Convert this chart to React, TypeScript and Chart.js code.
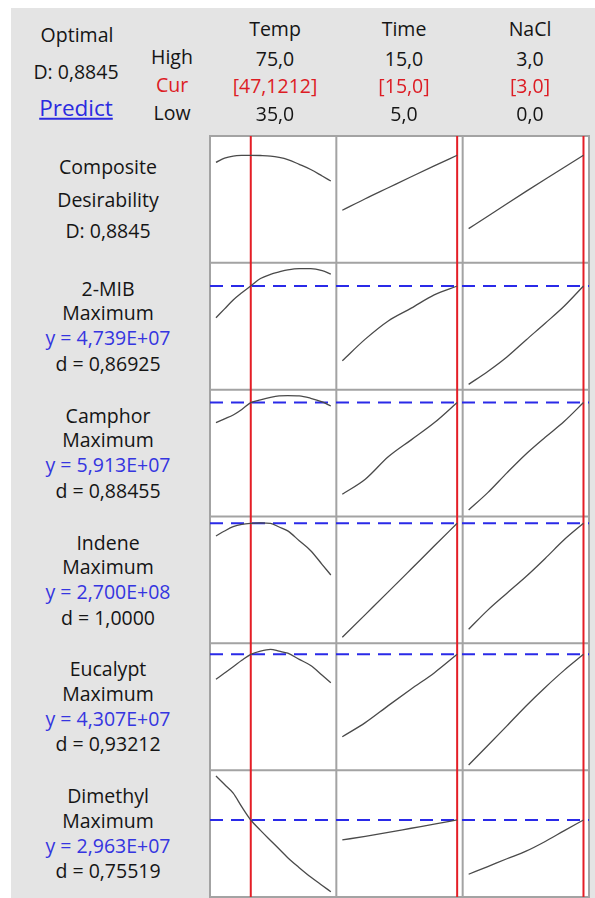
import React, { useEffect, useRef } from 'react';
import { Chart, registerables } from 'chart.js';

Chart.register(...registerables);

// ---------------- data ----------------
const factorNames = ['Temp', 'Time', 'NaCl'];
const highText = ['75,0', '15,0', '3,0'];
const curText = ['[47,1212]', '[15,0]', '[3,0]'];
const lowText = ['35,0', '5,0', '0,0'];
const factorLow = [35, 5, 0];
const factorHigh = [75, 15, 3];
const factorCur = [47.1212, 15, 3];

const tempGrid = [35, 38, 41, 44, 47.1212, 50.5, 54, 57, 60, 64, 68, 72, 75];
const timeGrid = [5, 7, 9, 11, 13, 15];
const naclGrid = [0, 0.5, 1, 1.5, 2, 2.5, 3];

const responseNames = ['Composite', '2-MIB', 'Camphor', 'Indene', 'Eucalypt', 'Dimethyl'];
const goalText = ['Desirability', 'Maximum', 'Maximum', 'Maximum', 'Maximum', 'Maximum'];
const predictedText = ['D: 0,8845', 'y = 4,739E+07', 'y = 5,913E+07', 'y = 2,700E+08', 'y = 4,307E+07', 'y = 2,963E+07'];
const desirText = ['', 'd = 0,86925', 'd = 0,88455', 'd = 1,0000', 'd = 0,93212', 'd = 0,75519'];
// composite row in D units; response rows in units of 1E+07
const predictedValue = [0.8845, 4.739, 5.913, 27.0, 4.307, 2.963];
const axisMin = [0.24, 1.47, 2.32, 8.07, 0.654, 0.534];
const axisMax = [1.0, 5.47, 6.32, 28.07, 4.654, 4.534];

const compTempY = [0.842, 0.867, 0.879, 0.8835, 0.8845, 0.8832, 0.880, 0.872, 0.859, 0.830, 0.799, 0.760, 0.730];
const compTimeY = [0.555, 0.624, 0.690, 0.756, 0.821, 0.8845];
const compNaclY = [0.445, 0.519, 0.594, 0.668, 0.741, 0.813, 0.8845];

const mibTempY = [3.739, 4.019, 4.297, 4.524, 4.739, 4.975, 5.107, 5.183, 5.249, 5.290, 5.287, 5.221, 5.117];
const mibTimeY = [2.382, 3.064, 3.638, 4.041, 4.461, 4.739];
const mibNaclY = [1.638, 2.045, 2.502, 3.038, 3.565, 4.108, 4.739];

const camTempY = [5.279, 5.399, 5.522, 5.696, 5.913, 5.998, 6.074, 6.121, 6.134, 6.125, 6.049, 5.932, 5.806];
const camTimeY = [3.021, 3.494, 4.201, 4.737, 5.273, 5.913];
const camNaclY = [2.526, 3.072, 3.696, 4.292, 4.819, 5.323, 5.913];

const indTempY = [25.0, 25.78, 26.46, 26.84, 27.0, 27.05, 26.97, 26.41, 25.8, 24.25, 22.68, 20.49, 18.85];
const indTimeY = [9.02, 12.6, 16.18, 19.79, 23.41, 27.0];
const indNaclY = [10.28, 13.31, 15.98, 18.61, 21.46, 24.43, 27.0];

const eucTempY = [3.519, 3.717, 3.916, 4.118, 4.307, 4.411, 4.465, 4.405, 4.342, 4.149, 3.954, 3.645, 3.411];
const eucTimeY = [1.708, 2.153, 2.689, 3.213, 3.721, 4.307];
const eucNaclY = [0.816, 1.431, 2.052, 2.68, 3.263, 3.809, 4.307];

const dimTempY = [4.351, 4.08, 3.809, 3.377, 2.963, 2.635, 2.317, 2.046, 1.774, 1.459, 1.163, 0.898, 0.702];
const dimTimeY = [2.333, 2.449, 2.572, 2.702, 2.831, 2.963];
const dimNaclY = [1.251, 1.494, 1.74, 1.979, 2.285, 2.629, 2.963];

const curveRows = [
  [compTempY, compTimeY, compNaclY],
  [mibTempY, mibTimeY, mibNaclY],
  [camTempY, camTimeY, camNaclY],
  [indTempY, indTimeY, indNaclY],
  [eucTempY, eucTimeY, eucNaclY],
  [dimTempY, dimTimeY, dimNaclY],
];
const grids = [tempGrid, timeGrid, naclGrid];

// ---------------- layout / style ----------------
const FONT = '"Open Sans", "Noto Sans", sans-serif';
const FONT_SIZE = 19.5;
const CANVAS_LEFT = 200;
const CANVAS_TOP = 126;
const CANVAS_W = 395;
const CANVAS_H = 772;
const AREA_TOP = 136;
const AREA_BOTTOM = 897;
const ROW_H = (AREA_BOTTOM - AREA_TOP) / 6;
const headerX = [275, 404, 530];
const LABEL_X = 108;
const RED = '#e41e26';
const BLUE = '#2a2ae8';
const CURVE = '#4a4a4a';
const GRID = '#a3a3a3';

const cellPlugin = {
  id: 'cellGrid',
  beforeDraw(chart: any) {
    const { ctx, chartArea: a } = chart;
    ctx.save();
    ctx.fillStyle = '#ffffff';
    ctx.fillRect(a.left, a.top, a.right - a.left, a.bottom - a.top);
    ctx.restore();
  },
  beforeDatasetsDraw(chart: any) {
    const { ctx, chartArea: a } = chart;
    ctx.save();
    ctx.strokeStyle = GRID;
    ctx.lineWidth = 2;
    ctx.beginPath();
    for (let c = 0; c < 3; c++) {
      const s = chart.scales['x' + c];
      ctx.moveTo(s.left, a.top - 1);
      ctx.lineTo(s.left, a.bottom + 1);
      if (c === 2) {
        ctx.moveTo(s.right, a.top - 1);
        ctx.lineTo(s.right, a.bottom + 1);
      }
    }
    for (let r = 0; r < 6; r++) {
      const s = chart.scales['y' + r];
      ctx.moveTo(a.left - 1, s.top);
      ctx.lineTo(a.right + 1, s.top);
      if (r === 5) {
        ctx.moveTo(a.left - 1, s.bottom);
        ctx.lineTo(a.right + 1, s.bottom);
      }
    }
    ctx.stroke();
    ctx.restore();
  },
};

function Label(props: { x: number; y: number; text: string; color?: string; size?: number; underline?: boolean }) {
  const { x, y, text, color = '#151515', size = FONT_SIZE, underline = false } = props;
  return (
    <div
      style={{
        position: 'absolute',
        left: x,
        top: y,
        transform: 'translate(-50%, -50%)',
        whiteSpace: 'nowrap',
        fontFamily: FONT,
        fontSize: size,
        lineHeight: 1,
        color,
        textDecoration: underline ? 'underline' : 'none',
      }}
    >
      {text}
    </div>
  );
}

export default function App() {
  const ref = useRef<HTMLCanvasElement | null>(null);

  useEffect(() => {
    if (!ref.current) return;
    const scales: any = {};
    for (let c = 0; c < 3; c++) {
      const range = factorHigh[c] - factorLow[c];
      scales['x' + c] = {
        type: 'linear',
        position: 'bottom',
        stack: 'cols',
        stackWeight: 1,
        min: factorLow[c] - range * 0.052,
        max: factorHigh[c] + range * 0.048,
        display: false,
      };
    }
    scales.xAll = { type: 'linear', position: 'top', min: 0, max: 1, display: false };
    for (let r = 0; r < 6; r++) {
      scales['y' + r] = {
        type: 'linear',
        position: 'right',
        stack: 'rows',
        stackWeight: 1,
        min: axisMin[r],
        max: axisMax[r],
        display: false,
      };
    }
    scales.yAll = { type: 'linear', position: 'left', min: 0, max: 1, display: false };

    const datasets: any[] = [];
    for (let r = 0; r < 6; r++) {
      for (let c = 0; c < 3; c++) {
        datasets.push({
          data: grids[c].map((x, i) => ({ x, y: curveRows[r][c][i] })),
          xAxisID: 'x' + c,
          yAxisID: 'y' + r,
          borderColor: CURVE,
          borderWidth: 1.3,
          pointRadius: 0,
          fill: false,
          cubicInterpolationMode: 'monotone',
        });
      }
      if (r > 0) {
        datasets.push({
          data: [
            { x: 0, y: predictedValue[r] },
            { x: 1, y: predictedValue[r] },
          ],
          xAxisID: 'xAll',
          yAxisID: 'y' + r,
          borderColor: BLUE,
          borderWidth: 2,
          borderDash: [13, 8],
          pointRadius: 0,
          fill: false,
        });
      }
    }
    for (let c = 0; c < 3; c++) {
      datasets.push({
        data: [
          { x: factorCur[c], y: 0 },
          { x: factorCur[c], y: 1 },
        ],
        xAxisID: 'x' + c,
        yAxisID: 'yAll',
        borderColor: RED,
        borderWidth: 2,
        pointRadius: 0,
        fill: false,
      });
    }

    const chart = new Chart(ref.current, {
      type: 'line',
      data: { datasets },
      options: {
        animation: false,
        responsive: false,
        devicePixelRatio: 1,
        layout: {
          padding: {
            left: 210 - CANVAS_LEFT,
            right: CANVAS_LEFT + CANVAS_W - 589,
            top: AREA_TOP - CANVAS_TOP,
            bottom: CANVAS_TOP + CANVAS_H - AREA_BOTTOM,
          },
        },
        plugins: { legend: { display: false }, tooltip: { enabled: false } },
        scales,
      } as any,
      plugins: [cellPlugin],
    });
    return () => chart.destroy();
  }, []);

  const labels: any[] = [];
  // top-left block
  labels.push(<Label key="opt" x={77} y={35} text="Optimal" />);
  labels.push(<Label key="optd" x={76} y={72} text="D: 0,8845" />);
  labels.push(<Label key="pred" x={76} y={108} text="Predict" size={22.5} color="#2b2be0" underline />);
  labels.push(<Label key="hi" x={172} y={57} text="High" />);
  labels.push(<Label key="cur" x={172} y={85} text="Cur" color="#dd1c24" />);
  labels.push(<Label key="lo" x={172} y={113} text="Low" />);
  for (let c = 0; c < 3; c++) {
    labels.push(<Label key={'fn' + c} x={headerX[c]} y={29} text={factorNames[c]} />);
    labels.push(<Label key={'fh' + c} x={headerX[c]} y={59} text={highText[c]} />);
    labels.push(<Label key={'fc' + c} x={headerX[c]} y={86} text={curText[c]} color="#dd1c24" />);
    labels.push(<Label key={'fl' + c} x={headerX[c]} y={114} text={lowText[c]} />);
  }
  // row labels
  labels.push(<Label key="r0a" x={LABEL_X} y={167} text={responseNames[0]} />);
  labels.push(<Label key="r0b" x={LABEL_X} y={200} text={goalText[0]} />);
  labels.push(<Label key="r0c" x={LABEL_X} y={231} text={predictedText[0]} />);
  for (let r = 1; r < 6; r++) {
    const top = AREA_TOP + r * ROW_H;
    labels.push(<Label key={'rn' + r} x={LABEL_X} y={top + 26} text={responseNames[r]} />);
    labels.push(<Label key={'rg' + r} x={LABEL_X} y={top + 50.5} text={goalText[r]} />);
    labels.push(<Label key={'rp' + r} x={LABEL_X} y={top + 75.5} text={predictedText[r]} color="#3535e0" />);
    labels.push(<Label key={'rd' + r} x={LABEL_X} y={top + 101} text={desirText[r]} />);
  }

  return (
    <div style={{ position: 'absolute', left: 0, top: 0, width: 595, height: 898, background: '#ffffff', overflow: 'hidden' }}>
      <div style={{ position: 'absolute', left: 11, top: 8, width: 584, height: 890, background: '#e4e4e4' }} />
      <canvas
        ref={ref}
        width={CANVAS_W}
        height={CANVAS_H}
        style={{ position: 'absolute', left: CANVAS_LEFT, top: CANVAS_TOP, width: CANVAS_W, height: CANVAS_H }}
      />
      {labels}
    </div>
  );
}
